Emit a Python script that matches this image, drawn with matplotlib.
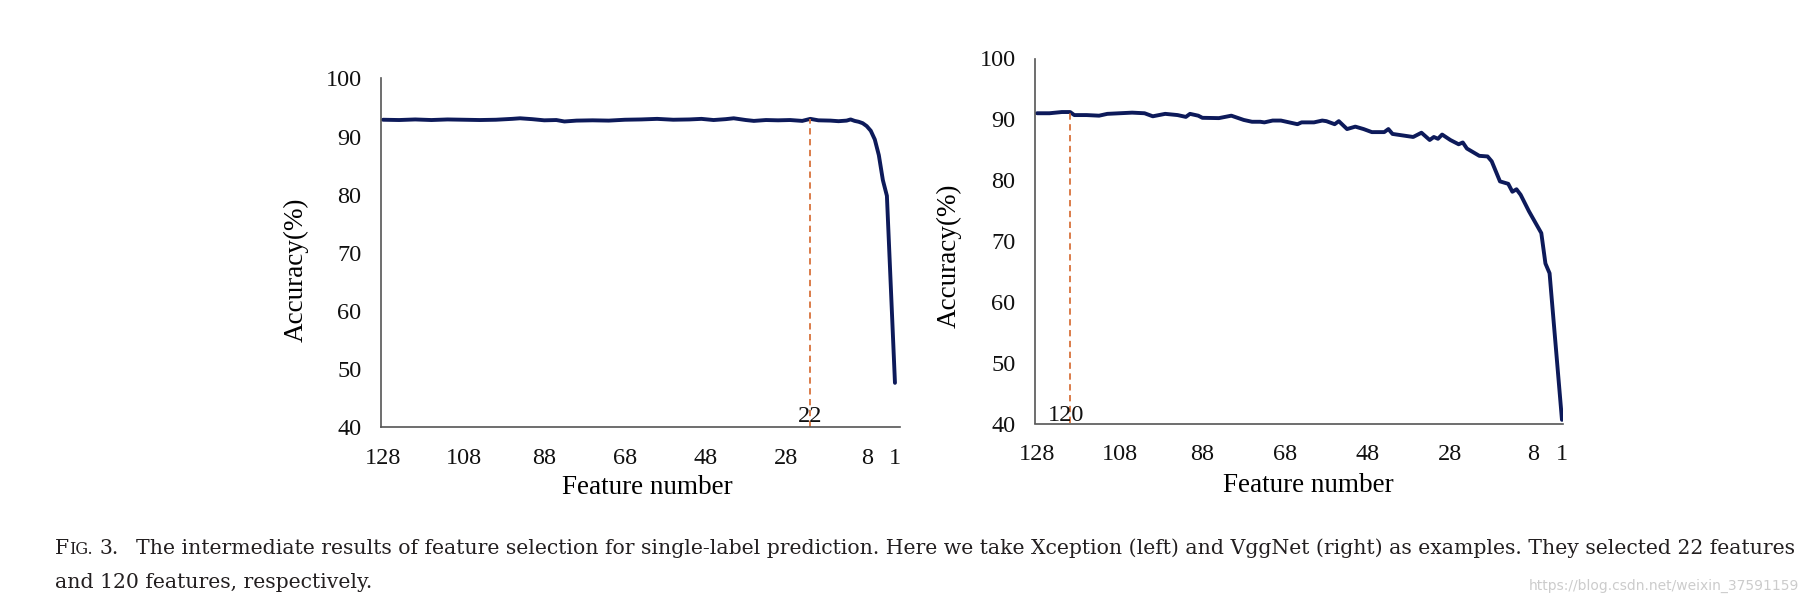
import matplotlib.pyplot as plt

W, H = 1810, 605

# Xception (left panel)
feat_x = [128, 124, 120, 116, 112, 108, 104, 100, 96, 94, 91, 88, 85, 83, 80,
          76, 72, 68, 64, 60, 56, 52, 49, 46, 43, 41, 38, 36, 33, 30, 27, 24,
          22, 20, 17, 15, 13, 12, 11, 10, 9, 8, 7, 6, 5, 4, 3, 1]
acc_x = [92.9, 92.85, 92.95, 92.85, 92.95, 92.9, 92.85, 92.9, 93.05, 93.15,
         93.0, 92.8, 92.85, 92.6, 92.75, 92.8, 92.75, 92.9, 92.95, 93.05, 92.9,
         92.95, 93.05, 92.85, 93.0, 93.15, 92.85, 92.7, 92.85, 92.8, 92.85,
         92.7, 93.05, 92.8, 92.75, 92.65, 92.75, 92.95, 92.7, 92.55, 92.3,
         91.8, 91.0, 89.5, 86.8, 82.5, 79.8, 47.6]
sel_x = 22

# VggNet (right panel)
feat_v = [128, 125, 122, 120, 119, 116, 113, 111, 108, 105, 102, 100, 97, 94,
          92, 91, 89, 88, 84, 81, 78, 76, 74, 73, 71, 69, 67, 65, 64, 61, 59,
          58, 56, 55, 53, 51, 49, 47, 44, 43, 42, 37, 35, 33, 32, 31, 30, 28,
          26, 25, 24, 21, 19, 18, 16, 14, 13, 12, 11, 9, 6, 5, 4, 1]
acc_v = [91.0, 91.0, 91.2, 91.2, 90.7, 90.7, 90.6, 90.9, 91.0, 91.1, 91.0,
         90.5, 90.9, 90.7, 90.4, 90.9, 90.6, 90.25, 90.2, 90.6, 89.9, 89.6,
         89.6, 89.5, 89.8, 89.8, 89.5, 89.2, 89.5, 89.5, 89.8, 89.7, 89.2,
         89.7, 88.4, 88.8, 88.4, 87.9, 87.9, 88.4, 87.6, 87.1, 87.8, 86.6,
         87.1, 86.8, 87.5, 86.6, 85.9, 86.2, 85.2, 84.0, 83.9, 83.1, 79.8,
         79.4, 78.1, 78.5, 77.6, 74.9, 71.3, 66.3, 64.7, 40.6]
sel_v = 120

xticks = [128, 108, 88, 68, 48, 28, 8, 1]
yticks = [40, 50, 60, 70, 80, 90, 100]

caption_1 = ("The intermediate results of feature selection for single-label prediction. "
             "Here we take Xception (left) and VggNet (right) as examples. They selected 22 features")
caption_2 = "and 120 features, respectively."
watermark = "https://blog.csdn.net/weixin_37591159"

line_col = '#0d1a5a'
dash_col = '#d8723a'
text_col = '#231f20'

plt.rcParams['font.family'] = ['Liberation Serif', 'DejaVu Serif']

fig = plt.figure(figsize=(W / 100, H / 100), dpi=100)


def panel(rect, feats, accs, sel, xright, lab_x, lab_y, ylab_xy, xlab_xy):
    ax = fig.add_axes(rect)
    ax.plot(feats, accs, color=line_col, lw=2.8, solid_joinstyle='round',
            solid_capstyle='round')
    top = accs[feats.index(sel)]
    ax.plot([sel, sel], [40, top], color=dash_col, lw=1.3, ls=(0, (3.5, 2.5)))
    ax.text(lab_x, lab_y, str(sel), fontsize=17.5, ha='center', va='baseline',
            color='#111111')
    ax.set_xlim(128.5, xright)
    ax.set_ylim(40, 100)
    ax.set_xticks(xticks)
    ax.set_yticks(yticks)
    ax.tick_params(length=0, labelsize=17.5, colors='#111111')
    ax.tick_params(axis='x', pad=15)
    ax.tick_params(axis='y', pad=14)
    for s in ['top', 'right']:
        ax.spines[s].set_visible(False)
    for s in ['left', 'bottom']:
        ax.spines[s].set_color('#555555')
        ax.spines[s].set_linewidth(1.2)
    ax.set_ylabel('Accuracy(%)', fontsize=19.5, va='center')
    ax.yaxis.set_label_coords(*ylab_xy)
    ax.set_xlabel('Feature number', fontsize=19.5, va='center')
    ax.xaxis.set_label_coords(*xlab_xy)
    return ax


panel([381 / W, 1 - 427 / H, 519 / W, 348.5 / H], feat_x, acc_x, sel_x, -0.25,
      22, 40.8, (-0.164, 0.45), (0.514, -0.175))
panel([1035 / W, 1 - 423.5 / H, 528 / W, 365 / H], feat_v, acc_v, sel_v, 0.75,
      121, 40.4, (-0.163, 0.459), (0.517, -0.169))

# caption, small caps "Fig."
fig.canvas.draw()
r = fig.canvas.get_renderer()


def width(txt, size, fam):
    t = fig.text(0, 0, txt, fontsize=size, family=fam)
    w = t.get_window_extent(r).width
    t.remove()
    return w


cap_font = 'DejaVu Serif'
space = 0.318 * 100 / 72
pieces = [('F', 1.0, 0.05), ('IG.', 0.78, 1.0), ('3.', 1.0, 2.6), (caption_1, 1.0, 0)]
w10 = sum(width(p, 10 * k, cap_font) + g * 10 * space for p, k, g in pieces)
size = 10 * (1798 - 55) / w10

x = 55
for p, k, g in pieces:
    t = fig.text(x / W, 1 - 554 / H, p, fontsize=size * k, family=cap_font,
                 color=text_col, va='baseline')
    x += t.get_window_extent(r).width + g * size * space
fig.text(55 / W, 1 - 588 / H, caption_2, fontsize=size, family=cap_font,
         color=text_col, va='baseline')

wm_size = 10 * 271 / width(watermark, 10, 'DejaVu Sans')
fig.text(1529 / W, 1 - 590 / H, watermark, fontsize=wm_size, family='DejaVu Sans',
         color='#cccccc', va='baseline')

fig.savefig('out.png', dpi=100)
